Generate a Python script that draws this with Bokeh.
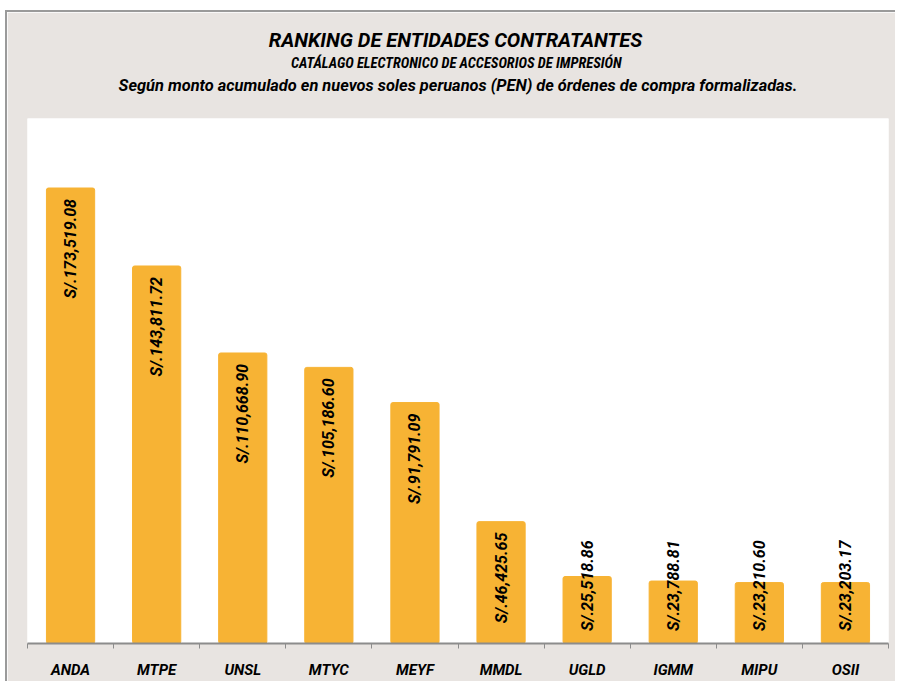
from bokeh.plotting import figure
from bokeh.models import ColumnDataSource, Range1d, FixedTicker, Title
from bokeh.core.properties import value
from bokeh.embed import file_html
from bokeh.resources import INLINE
import math

entidades = ["ANDA", "MTPE", "UNSL", "MTYC", "MEYF", "MMDL", "UGLD", "IGMM", "MIPU", "OSII"]
montos = [173519.08, 143811.72, 110668.90, 105186.60, 91791.09, 46425.65, 25518.86, 23788.81, 23210.60, 23203.17]
etiquetas = ["S/.173,519.08", "S/.143,811.72", "S/.110,668.90", "S/.105,186.60", "S/.91,791.09",
             "S/.46,425.65", "S/.25,518.86", "S/.23,788.81", "S/.23,210.60", "S/.23,203.17"]

NARROW = "Liberation Sans Narrow, Roboto Condensed, Roboto, sans-serif"
WIDE = "Roboto, sans-serif"
BG = "#e8e4e1"
BAR = "#f7b334"

xs = [i + 0.5 for i in range(len(entidades))]
y_max = 200000
top_off = 4200
base_off = 4800
ys, aligns = [], []
for m in montos:
    if m > 40000:
        ys.append(m - top_off)
        aligns.append("right")
    else:
        ys.append(base_off)
        aligns.append("left")

src = ColumnDataSource(dict(x=xs, top=montos, lab=etiquetas, ly=ys, al=aligns))

p = figure(width=890, height=671, output_backend="svg", toolbar_location=None,
           x_range=Range1d(0, len(entidades)), y_range=Range1d(0, y_max),
           min_border_left=20, min_border_right=9, min_border_bottom=40, min_border_top=106,
           background_fill_color="white", border_fill_color=BG, outline_line_color=None)
p.styles = {"margin-top": "10px", "margin-left": "5px",
            "border-top": "2px solid #9a9a9a", "border-left": "2px solid #9a9a9a"}

p.vbar(x="x", top="top", width=0.56, bottom=0, source=src, fill_color=BAR,
       line_color=BAR, border_radius=2)

p.text(x="x", y="ly", text="lab", source=src, angle=math.pi / 2, text_align="al",
       text_baseline="middle", text_font=value(WIDE), text_font_style="bold italic",
       text_font_size="16px", text_color="black")

p.grid.visible = False
p.yaxis.visible = False
ax = p.xaxis[0]
ax.ticker = FixedTicker(ticks=xs, minor_ticks=list(range(len(entidades) + 1)))
ax.major_label_overrides = {x: e for x, e in zip(xs, entidades)}
ax.major_tick_out = 0
ax.major_tick_in = 0
ax.minor_tick_out = 5
ax.minor_tick_in = 0
ax.minor_tick_line_color = "#8c8c8c"
ax.axis_line_color = "#8c8c8c"
ax.axis_line_width = 2
ax.major_label_text_font = WIDE
ax.major_label_text_font_style = "bold italic"
ax.major_label_text_font_size = "15px"
ax.major_label_text_color = "black"
ax.major_label_standoff = 12

spacer = Title(text=" ", text_font_size="19px", standoff=0)
t3 = Title(text="Según monto acumulado en nuevos soles peruanos (PEN) de órdenes de compra formalizadas.",
           align="center", text_font=WIDE, text_font_style="bold italic", text_font_size="16.4px",
           text_color="black", standoff=2)
t2 = Title(text="CATÁLAGO ELECTRONICO DE  ACCESORIOS DE IMPRESIÓN",
           align="center", text_font=NARROW, text_font_style="bold italic", text_font_size="14.5px",
           text_color="black", standoff=2)
t1 = Title(text="RANKING DE ENTIDADES  CONTRATANTES",
           align="center", text_font=WIDE, text_font_style="bold italic", text_font_size="20px",
           text_color="black", standoff=0)
p.add_layout(spacer, "above")
p.add_layout(t3, "above")
p.add_layout(t2, "above")
p.add_layout(t1, "above")

open("out.html", "w").write(file_html(p, INLINE))
